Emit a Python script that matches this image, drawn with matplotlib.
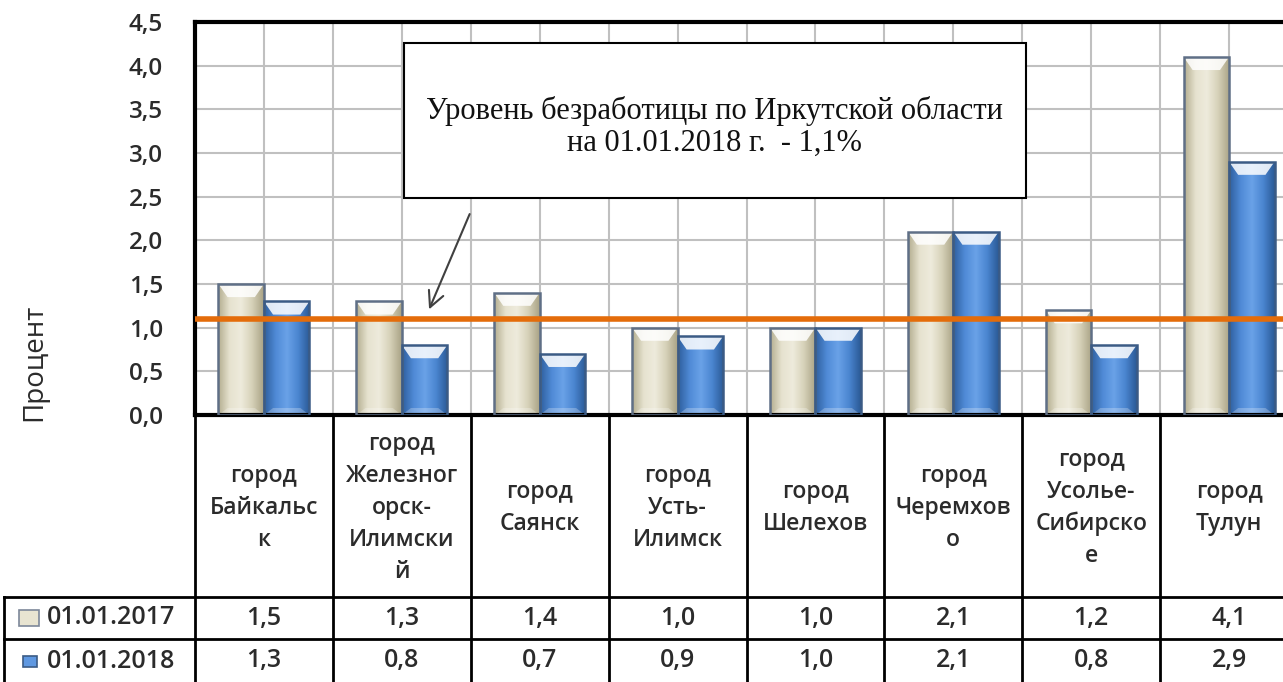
import numpy as np
import matplotlib.pyplot as plt
from matplotlib.patches import Rectangle, Polygon
from matplotlib.colors import LinearSegmentedColormap

cities = ['город\nБайкальс\nк', 'город\nЖелезног\nорск-\nИлимски\nй', 'город\nСаянск',
          'город\nУсть-\nИлимск', 'город\nШелехов', 'город\nЧеремхов\nо',
          'город\nУсолье-\nСибирско\nе', 'город\nТулун']
series_names = ['01.01.2017', '01.01.2018']
vals_2017 = [1.5, 1.3, 1.4, 1.0, 1.0, 2.1, 1.2, 4.1]
vals_2018 = [1.3, 0.8, 0.7, 0.9, 1.0, 2.1, 0.8, 2.9]
region_level = 1.1
yticks = np.arange(0, 4.51, 0.5)

W, H = 1283, 682
sans = 'Open Sans'
serif = 'Liberation Serif'
txt_col = '#2b2b2b'
fw = 'semibold'

fig = plt.figure(figsize=(W / 100, H / 100), dpi=100)
fig.patch.set_facecolor('white')

# main plot area (runs past the right edge, like the cropped original)
ax = fig.add_axes([195 / W, 1 - 415 / H, 1103 / W, (415 - 22) / H])
n = len(cities)
ax.set_xticks(np.arange(-0.5, n - 0.4, 0.5))
ax.set_xticklabels([])
ax.tick_params(axis='x', length=0)
ax.set_yticks(yticks)
ax.set_yticklabels([f'{v:.1f}'.replace('.', ',') for v in yticks],
                   fontsize=17.5, family=sans, color=txt_col, fontweight=fw)
ax.tick_params(axis='y', length=0, pad=23)
ax.grid(True, color='#c0c0c0', lw=1.5, zorder=0)
ax.set_axisbelow(True)
for s in ['left', 'top', 'bottom', 'right']:
    ax.spines[s].set_linewidth(3)
    ax.spines[s].set_color('black')
fig.text(34 / W, 1 - 362 / H, 'Процент', rotation=90, ha='center', va='center',
         fontsize=20, family=sans, color=txt_col)

x = np.arange(n)
bw = 0.33
beige_cmap = LinearSegmentedColormap.from_list('b', ['#b4ae90', '#e6e2cf', '#eeebdc', '#d6d1b8', '#a9a386'])
blue_cmap = LinearSegmentedColormap.from_list('u', ['#2f5f9e', '#4f8ad6', '#6aa2e8', '#4a85d0', '#2b5a96'])
grad = np.linspace(0, 1, 64).reshape(1, -1)


def fancy_bars(xs, vals, cmap, edge):
    bars = ax.bar(xs, vals, bw, color='none', edgecolor=edge, lw=1.8, zorder=3)
    for b in bars:
        x0, w, h = b.get_x(), b.get_width(), b.get_height()
        im = ax.imshow(grad, cmap=cmap, extent=(x0, x0 + w, 0, h), aspect='auto', zorder=2)
        im.set_clip_path(b)
        dh = 0.15
        top = Polygon([(x0, h), (x0 + w, h), (x0 + w * 0.8, h - dh), (x0 + w * 0.2, h - dh)],
                      closed=True, facecolor='white', alpha=0.85, edgecolor='none', zorder=2.5)
        ax.add_patch(top)
        bot = Polygon([(x0, 0), (x0 + w, 0), (x0 + w * 0.8, 0.08), (x0 + w * 0.2, 0.08)],
                      closed=True, facecolor='white', alpha=0.25, edgecolor='none', zorder=2.5)
        ax.add_patch(bot)
    return bars


fancy_bars(x - bw / 2, vals_2017, beige_cmap, '#5f6f86')
fancy_bars(x + bw / 2, vals_2018, blue_cmap, '#3b5b85')
ax.set_xlim(-0.5, n - 0.5)
ax.set_ylim(0, 4.5)

ax.axhline(region_level, color='#E46C0A', lw=4, zorder=5)

# annotation box with arrow
ax.add_patch(Rectangle((1.017, 2.486), 4.51, 1.775, facecolor='white', edgecolor='black',
                       lw=1.5, zorder=6))
ax.text(3.27, 3.30, 'Уровень безработицы по Иркутской области\nна 01.01.2018 г.  - 1,1%',
        ha='center', va='center', fontsize=22, family=serif, color='#111111', zorder=7,
        linespacing=1.12)
ax.annotate('', xy=(1.19, 1.18), xytext=(1.5, 2.33),
            arrowprops=dict(arrowstyle='->', color='#404040', lw=1.5, mutation_scale=28),
            zorder=7)

# data table below the chart
tab = fig.add_axes([195 / W, 0, 1103 / W, 1], sharex=ax)
tab.set_ylim(H, 0)
tab.axis('off')
tab.patch.set_visible(False)
px = 1 / 137.8
left = -0.5 - (195 - 4) * px
lk = dict(color='black', lw=2, clip_on=False)
for k in range(n + 1):
    tab.plot([k - 0.5, k - 0.5], [415, H], **lk)
tab.plot([left, n - 0.5], [597, 597], **lk)
tab.plot([left, n - 0.5], [639, 639], **lk)
tab.plot([left, left], [597, H], **lk)

for i, c in enumerate(cities):
    tab.text(i, 508, c, ha='center', va='center', fontsize=16.5, family=sans,
             color=txt_col, fontweight=fw, linespacing=1.45, clip_on=False)
for row_y, vals in zip([618, 661], [vals_2017, vals_2018]):
    for i, v in enumerate(vals):
        tab.text(i, row_y, f'{v:.1f}'.replace('.', ','), ha='center', va='center',
                 fontsize=18, family=sans, color=txt_col, fontweight=fw)

lx = -0.5 - (195 - 47) * px
keys = [(beige_cmap(0.3), '#7d8799', 19, 20, 16), (blue_cmap(0.4), '#3b5b85', 23, 14, 11)]
for row_y, name, (fc, ec, kx, kw, kh) in zip([618, 661], series_names, keys):
    tab.text(lx, row_y, name, ha='left', va='center', fontsize=18, family=sans,
             color=txt_col, fontweight=fw, clip_on=False)
    k0 = -0.5 - (195 - kx) * px
    tab.add_patch(Rectangle((k0, row_y - kh / 2), kw * px, kh, facecolor=fc,
                            edgecolor=ec, lw=1.2, clip_on=False))

fig.savefig('out.png', dpi=100)
